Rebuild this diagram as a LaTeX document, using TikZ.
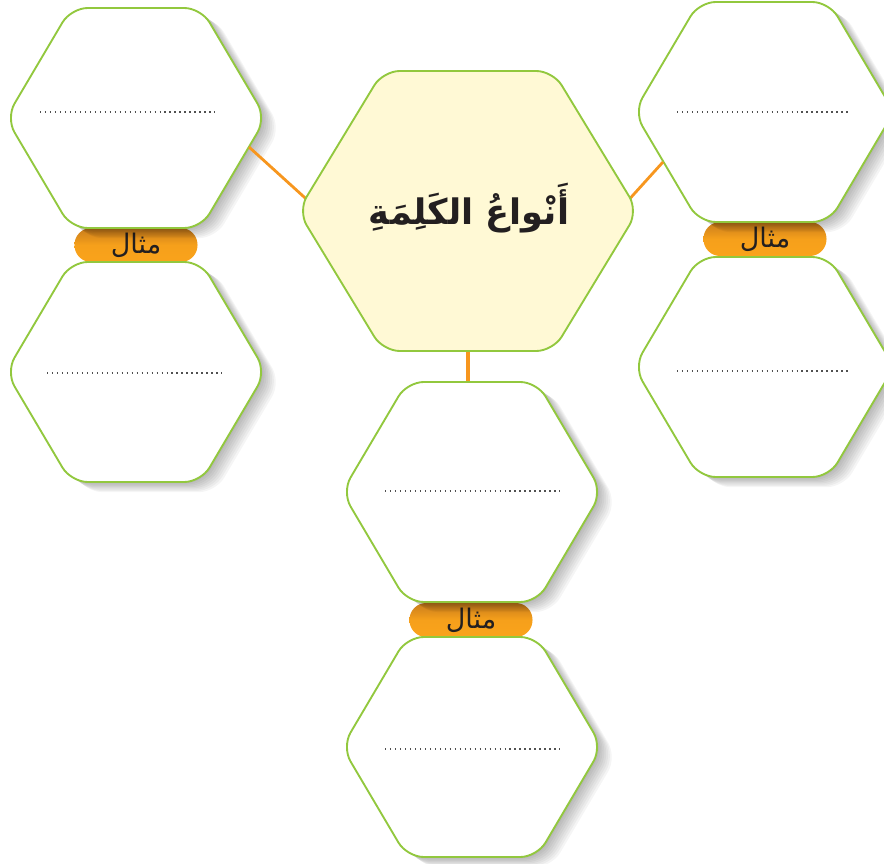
\documentclass[tikz,border=0pt]{standalone}
\usepackage{fontspec}
\usetikzlibrary{shadows}
\TeXXeTstate=1
\newfontfamily\arabicfont[Script=Arabic]{DejaVu Sans}
\definecolor{hexgreen}{RGB}{146,200,62}
\definecolor{titlefill}{RGB}{255,249,213}
\definecolor{connorange}{RGB}{247,150,30}
\definecolor{pilltop}{RGB}{200,124,28}
\definecolor{pillbot}{RGB}{250,163,27}
\definecolor{inkdark}{RGB}{35,31,32}
\definecolor{dotgray}{RGB}{80,80,80}
% #1 style, #2 cx, #3 cy, #4 half width a, #5 half height b
\newcommand\hexshape[5]{%
  \path[#1] (#2,#3-#5) -- (#2+#4/2,#3-#5) -- (#2+#4,#3) -- (#2+#4/2,#3+#5)
     -- (#2-#4/2,#3+#5) -- (#2-#4,#3) -- (#2-#4/2,#3-#5) -- cycle;}
\tikzset{
  softshadow/.style={drop shadow={shadow xshift=#1*0.055cm, shadow yshift=-#1*0.038cm, opacity=0.04, fill=black}},
  hexbox/.style={draw=hexgreen, line width=1.6pt, fill=white, rounded corners=0.5cm,
    softshadow=1, softshadow=2, softshadow=3, softshadow=4, softshadow=5,
    softshadow=6, softshadow=7, softshadow=8},
  titlebox/.style={draw=hexgreen, line width=1.6pt, fill=titlefill, rounded corners=0.5cm},
  conn/.style={draw=connorange, line width=2.4pt},
  connthick/.style={draw=connorange, line width=4.2pt},
  pill/.style={rectangle, rounded corners=0.5cm, minimum width=3.69cm, minimum height=1.02cm,
    top color=pilltop, bottom color=pillbot, middle color=pillbot!92!pilltop, inner sep=0pt,
    font=\arabicfont\fontsize{23}{26}\selectfont, text=inkdark},
  dotline/.style={draw=dotgray, line width=1.2pt, dash pattern=on 1.2pt off 3.05pt},
  titletext/.style={font=\arabicfont\bfseries\fontsize{30}{36}\selectfont, text=inkdark, inner sep=0pt}
}
\begin{document}
\begin{tikzpicture}[x=0.03cm, y=-0.03cm]
\useasboundingbox (0,0) rectangle (884,864);
\clip (0,0) rectangle (884,864);
% connector end points
\coordinate (cLa) at (249,147);
\coordinate (cLb) at (314,206);
\coordinate (cRa) at (663,162);
\coordinate (cRb) at (625,204);
\coordinate (cMa) at (468,340);
\coordinate (cMb) at (468,392);
\draw[connthick] (cMa) -- (cMb);
% example pills
\node[pill] (pTL) at (136,245) {\beginR مثال\endR};
\node[pill] (pTR) at (765,239) {\beginR مثال\endR};
\node[pill] (pM) at (471,620) {\beginR مثال\endR};
% hexagons
\hexshape{hexbox}{136}{118}{130}{110}
\hexshape{hexbox}{136}{372}{130}{110}
\hexshape{hexbox}{764}{112}{130}{110}
\hexshape{hexbox}{764}{367}{130}{110}
\hexshape{hexbox}{472}{492}{130}{110}
\hexshape{hexbox}{472}{747}{130}{110}
\draw[conn] (cLa) -- (cLb);
\draw[conn] (cRa) -- (cRb);
\hexshape{titlebox}{468}{211}{170}{140}
% title
\node[titletext] (title) at (469,208) {\beginR أَنْواعُ الكَلِمَةِ\endR};
% dotted answer lines
\draw[dotline] (40,112) -- (215,112);
\draw[dotline] (47,373) -- (222,373);
\draw[dotline] (677,112) -- (851,112);
\draw[dotline] (677,371) -- (851,371);
\draw[dotline] (385,491) -- (560,491);
\draw[dotline] (385,749) -- (560,749);
\end{tikzpicture}
\end{document}
